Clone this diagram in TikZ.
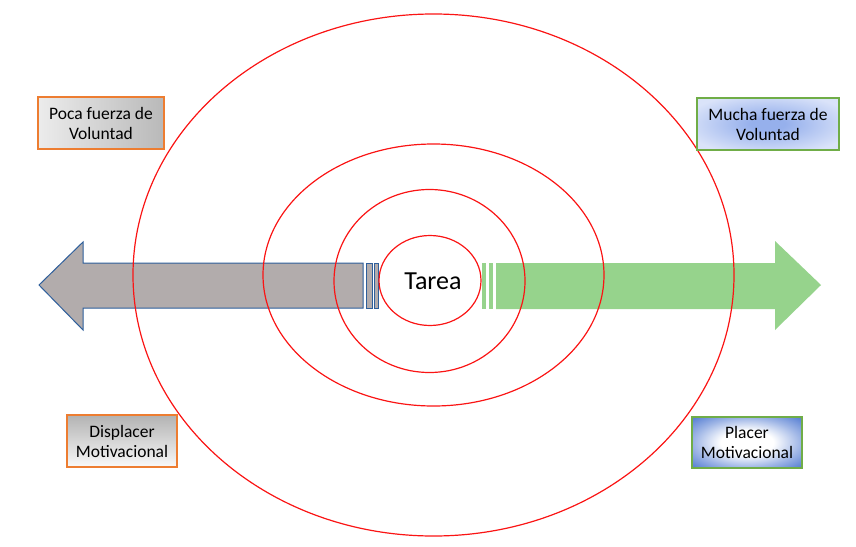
\documentclass[tikz,border=0pt]{standalone}
\usepackage{fontspec}
\setmainfont{Carlito}
\usetikzlibrary{shapes.geometric}
\definecolor{arrgrey}{RGB}{178,172,172}
\definecolor{arrblue}{RGB}{46,95,155}
\definecolor{arrgreen}{RGB}{150,211,140}
\definecolor{boxorange}{RGB}{237,125,49}
\definecolor{boxgreen}{RGB}{112,173,71}
\definecolor{ringred}{RGB}{250,20,20}
\definecolor{lblue}{RGB}{150,176,236}
\definecolor{pblue}{RGB}{218,227,249}
\definecolor{dblue}{RGB}{45,95,200}
\pgfdeclareradialshading{placershade}{\pgfpoint{0bp}{0bp}}{color(0bp)=(white); color(12bp)=(white); color(24bp)=(dblue!45!white); color(36bp)=(dblue!85!white); color(50bp)=(dblue)}
\pgfdeclareradialshading{muchashade}{\pgfpoint{0bp}{0bp}}{color(0bp)=(lblue); color(6bp)=(lblue); color(30bp)=(pblue); color(50bp)=(pblue)}
\tikzset{
  ring/.style={draw=ringred,line width=1.2pt},
  lbl/.style={font=\fontsize{17.5}{20}\selectfont,align=center,inner sep=0pt,line width=1.3pt,minimum height=52pt},
}
\begin{document}
\begin{tikzpicture}[x=1pt,y=-1pt]
\useasboundingbox (0,0) rectangle (856,546);
% left arrow
\draw[fill=arrgrey,draw=arrblue,line width=1pt,line join=miter]
  (39,285) -- (83,242) -- (83,263) -- (363,263) -- (363,308) -- (83,308) -- (83,330) -- cycle;
\draw[fill=arrgrey,draw=arrblue,line width=1pt] (366,263) rectangle (372,308);
\draw[fill=arrgrey,draw=arrblue,line width=1pt] (374,263) rectangle (378,308);
% right arrow
\fill[arrgreen] (482,263) rectangle (486,309);
\fill[arrgreen] (489,263) rectangle (493,309);
\fill[arrgreen] (496,263) -- (775,263) -- (775,241) -- (821,285) -- (775,330) -- (775,309) -- (496,309) -- cycle;
% rings
\draw[ring] (433.5,275) ellipse [x radius=300.5pt, y radius=261pt];
\draw[ring] (433.5,275) ellipse [x radius=170.5pt, y radius=131pt];
\draw[ring] (429.5,281) ellipse [x radius=95.5pt, y radius=91.5pt];
\draw[ring] (430,280.5) ellipse [x radius=51pt, y radius=45pt];
\node (tarea) at (433,281) {\fontsize{26}{30}\selectfont Tarea};
% boxes
\node[lbl,draw=boxorange,left color=gray!15,right color=gray!55,minimum width=126pt] (poca) at (101,123) {Poca fuerza de\\Voluntad};
\node[lbl,draw=boxgreen,shading=muchashade,minimum width=142pt] (mucha) at (768,124) {Mucha fuerza de\\Voluntad};
\node[lbl,draw=boxorange,top color=gray!60,bottom color=gray!5,minimum width=110pt] (displacer) at (122,441) {Displacer\\Motivacional};
\node[lbl,draw=boxgreen,shading=placershade,minimum width=110pt,minimum height=51pt] (placer) at (747,442.5) {Placer\\Motivacional};
\end{tikzpicture}
\end{document}
